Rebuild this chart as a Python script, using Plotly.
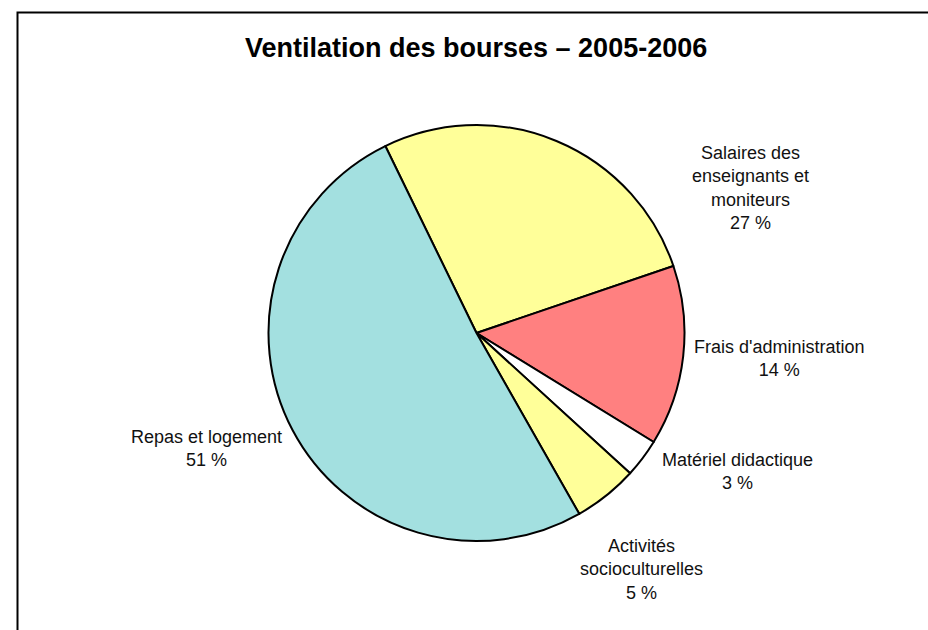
import plotly.graph_objects as go

# Data
categories = ["Salaires des enseignants et moniteurs", "Frais d'administration",
              "Matériel didactique", "Activités socioculturelles", "Repas et logement"]
display_labels = ["Salaires des<br>enseignants et<br>moniteurs", "Frais d'administration",
                  "Matériel didactique", "Activités<br>socioculturelles", "Repas et logement"]
values = [27, 14, 3, 5, 51]
colors = ["#FFFF99", "#FF8080", "#FFFFFF", "#FFFF99", "#A3E0E0"]

# Label positions (paper coords)
label_x = [0.8082, 0.8405, 0.7949, 0.6918, 0.2220]
label_y = [0.7010, 0.4312, 0.2508, 0.0968, 0.2884]

W, H = 928, 630
cx, cy, r = 476.5, 333, 208

fig = go.Figure(go.Pie(
    labels=categories,
    values=values,
    sort=False,
    direction="clockwise",
    rotation=-26,
    marker=dict(colors=colors, line=dict(color="black", width=2)),
    textinfo="none",
    hoverinfo="label+percent",
    showlegend=False,
    domain=dict(x=[(cx - r) / W, (cx + r) / W],
                y=[(H - cy - r) / H, (H - cy + r) / H]),
))

annotations = []
for lab, v, x, y in zip(display_labels, values, label_x, label_y):
    annotations.append(dict(
        text=f"{lab}<br>{v} %", x=x, y=y, xref="paper", yref="paper",
        xanchor="center", yanchor="middle", align="center", showarrow=False,
        font=dict(family="Liberation Sans, Arial", size=18, color="#111111"),
    ))
annotations.append(dict(
    text="<b>Ventilation des bourses – 2005-2006</b>", x=cx / W, y=1 - 48 / H,
    xref="paper", yref="paper", xanchor="center", yanchor="middle", showarrow=False,
    font=dict(family="Liberation Sans, Arial", size=27, color="black"),
))

fig.update_layout(
    width=W, height=H,
    margin=dict(l=0, r=0, t=0, b=0),
    paper_bgcolor="white", plot_bgcolor="white",
    annotations=annotations,
    shapes=[dict(type="rect", xref="paper", yref="paper",
                 x0=17.5 / W, x1=1.02, y0=-0.02, y1=1 - 12.5 / H,
                 line=dict(color="black", width=2))],
)

fig.write_html("out.html", post_script="document.body.style.margin='0px';",
               config={"displayModeBar": False})
